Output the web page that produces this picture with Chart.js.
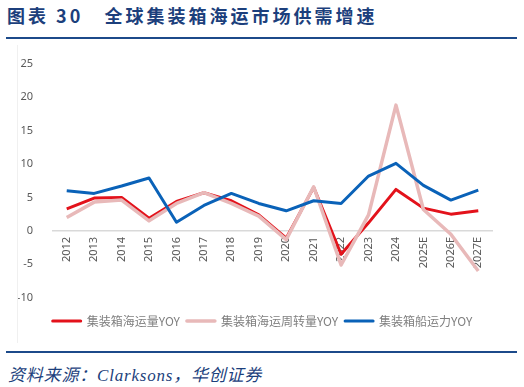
<!DOCTYPE html>
<html>
<head>
<meta charset="utf-8">
<script src="https://cdn.jsdelivr.net/npm/chart.js@4"></script>
<style>
  body { margin: 0; width: 524px; height: 387px; background: #fff; position: relative; overflow: hidden; }
  .title { position: absolute; left: 7px; top: 2px; font-family: "Noto Sans CJK SC"; font-weight: bold; font-size: 18px; color: #1c3f7c; letter-spacing: 3px; white-space: nowrap; }
  .rule { position: absolute; left: 6px; width: 511px; height: 2px; background: #1c4a8a; }
  .frame { position: absolute; left: 17px; top: 45px; width: 500px; height: 298px; border-left: 1px solid #f0f0f0; }
  .source { position: absolute; left: 8px; top: 361px; font-family: "Liberation Serif", "Noto Sans CJK SC"; font-style: italic; font-size: 17px; letter-spacing: 0.8px; color: #1c3f7c; white-space: nowrap; }
</style>
</head>
<body>
<div class="title">图表 30&nbsp;&nbsp;&nbsp;全球集装箱海运市场供需增速</div>
<div class="rule" style="top:37px"></div>
<div class="frame"><canvas id="chart" width="500" height="298"></canvas></div>
<div class="rule" style="top:351px"></div>
<div class="source">资料来源：Clarksons，华创证券</div>
<script>
// CONTAINER SHIPPING SUPPLY / DEMAND GROWTH (%)
const years = ["2012", "2013", "2014", "2015", "2016", "2017", "2018", "2019", "2020", "2021", "2022", "2023", "2024", "2025E", "2026E", "2027E"];
const volumeYoy = [3.3, 4.9, 5.0, 1.9, 4.4, 5.7, 4.5, 2.4, -1.1, 6.5, -3.5, 1.2, 6.2, 3.4, 2.5, 3.0];
const teuMileYoy = [2.0, 4.3, 4.6, 1.5, 4.1, 5.7, 4.1, 2.2, -1.3, 6.6, -5.1, 2.4, 18.8, 3.2, -0.5, -6.0];
const capacityYoy = [6.0, 5.6, 6.7, 7.9, 1.3, 3.8, 5.6, 4.1, 3.0, 4.5, 4.1, 8.2, 10.1, 6.8, 4.6, 6.1];
const yTicks = [25, 20, 15, 10, 5, 0, -5, -10];

const ctx = document.getElementById("chart");

new Chart(ctx, {
    type: "line",
    data: {
        labels: years,
        datasets: [
            {
                label: "集装箱海运量YOY",
                data: volumeYoy,
                borderColor: "#e3121b",
                backgroundColor: "#e3121b",
                borderWidth: 3,
                order: 2
            },
            {
                label: "集装箱海运周转量YOY",
                data: teuMileYoy,
                borderColor: "#e8b9b9",
                backgroundColor: "#e8b9b9",
                borderWidth: 3.5,
                order: 1
            },
            {
                label: "集装箱船运力YOY",
                data: capacityYoy,
                borderColor: "#0a62b8",
                backgroundColor: "#0a62b8",
                borderWidth: 3,
                order: 0
            }
        ]
    },
    options: {
        responsive: false,
        animation: false,
        elements: {
            point: { radius: 0 },
            line: { tension: 0, borderJoinStyle: "round" }
        },
        layout: {
            padding: { top: 15, right: 11, left: 0, bottom: 6 }
        },
        plugins: {
            tooltip: { enabled: false },
            legend: {
                position: "bottom",
                // empty title only used as a spacer between plot and legend
                title: {
                    display: true,
                    text: "",
                    font: { size: 1 },
                    padding: { top: 9, bottom: 0 }
                },
                labels: {
                    color: "#7f7f7f",
                    boxWidth: 28,
                    boxHeight: 0,
                    padding: 7,
                    font: { family: "Noto Sans CJK SC", size: 12 },
                    sort: (a, b) => a.datasetIndex - b.datasetIndex
                }
            }
        },
        scales: {
            x: {
                position: { y: 0 },
                offset: true,
                grid: { display: false, drawTicks: false },
                border: { display: true, color: "#d9d9d9", width: 1.5 },
                ticks: {
                    color: "#595959",
                    minRotation: 90,
                    maxRotation: 90,
                    padding: 6,
                    font: { family: "Noto Sans", size: 11 }
                }
            },
            y: {
                min: -10,
                max: 25,
                afterBuildTicks: axis => {
                    axis.ticks = yTicks.map(v => ({ value: v }));
                },
                afterFit: axis => {
                    axis.width = 35;
                },
                grid: { display: false },
                border: { display: false },
                ticks: {
                    color: "#595959",
                    padding: 12,
                    font: { family: "Noto Sans", size: 11 }
                }
            },
            // blank right-hand spacer so the legend sits centred like the original
            ySpacer: {
                position: "right",
                grid: { display: false },
                border: { display: false },
                ticks: { display: false },
                afterFit: axis => {
                    axis.width = 15;
                }
            }
        }
    }
});
</script>
</body>
</html>
